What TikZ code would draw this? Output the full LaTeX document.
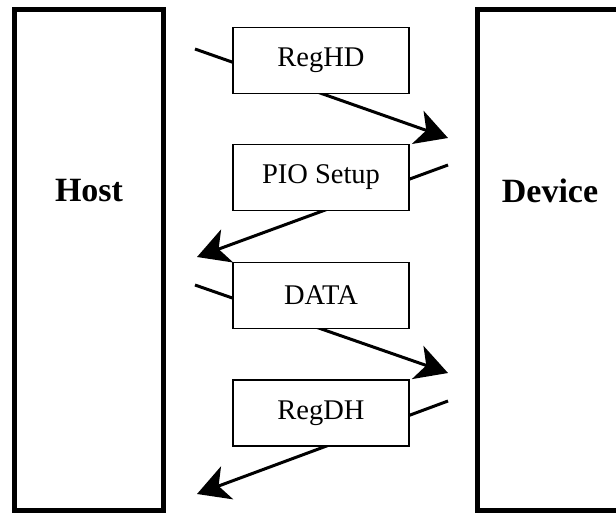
\documentclass[tikz,border=0pt]{standalone}
\usepackage{fontspec}
\setmainfont{Liberation Serif}
\usepackage{tikz}
\usetikzlibrary{arrows.meta,positioning}

\begin{document}
\begin{tikzpicture}[
        x=1pt, y=-1pt,
        sidebox/.style={
            rectangle,
            draw=black,
            line width=5pt,
            minimum height=501pt,
            inner sep=0pt
        },
        sidelabel/.style={
            font=\fontsize{34}{40}\selectfont\bfseries,
            inner sep=0pt
        },
        msgbox/.style={
            rectangle,
            draw=black,
            fill=white,
            line width=1.5pt,
            minimum width=176pt,
            minimum height=66pt,
            font=\fontsize{28.5}{34}\selectfont
        },
        msg/.style={
            line width=3pt,
            -{Stealth[length=32pt,width=35pt,inset=9pt]}
        }
    ]
        \useasboundingbox (0,0) rectangle (616,514);

        % Host and device
        \node[sidebox, minimum width=149pt] (host) at (89,260) {};
        \node[sidebox, minimum width=163pt] (device) at (559,260) {};
        \node[sidelabel] (hostlabel) at (89,191) {Host};
        \node[sidelabel] (devicelabel) at (550,191) {Device};

        % Arrow ends
        \coordinate (s1) at (195,49);
        \coordinate (t1) at (448,138);
        \coordinate (s2) at (448,165);
        \coordinate (t2) at (197,257);
        \coordinate (s3) at (195,285);
        \coordinate (t3) at (448,373);
        \coordinate (s4) at (448,401);
        \coordinate (t4) at (197,494);

        % Transfers
        \draw[msg] (s1) -- (t1);
        \draw[msg] (s2) -- (t2);
        \draw[msg] (s3) -- (t3);
        \draw[msg] (s4) -- (t4);

        % FIS boxes
        \node[msgbox] (reghd) at (321,60.5) {RegHD};
        \node[msgbox] (piosetup) at (321,177.5) {PIO Setup};
        \node[msgbox] (data) at (321,295.5) {DATA};
        \node[msgbox] (regdh) at (321,413) {RegDH};
    \end{tikzpicture}
\end{document}
